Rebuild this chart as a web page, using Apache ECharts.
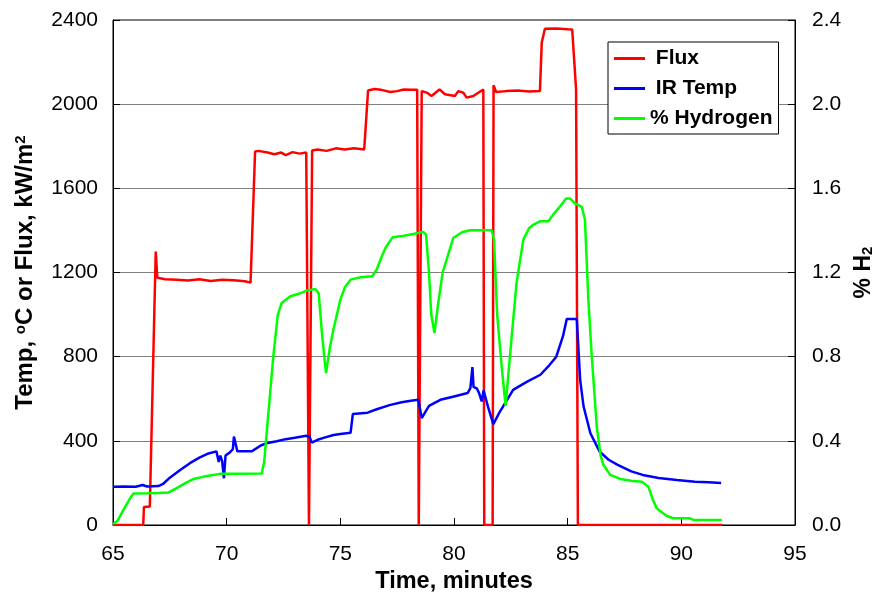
<!DOCTYPE html>
<html>
<head>
<meta charset="utf-8">
<script src="https://cdn.jsdelivr.net/npm/echarts@6/dist/echarts.min.js"></script>
<style>
  html, body { margin: 0; padding: 0; background: #fff; }
  #chart { width: 878px; height: 593px; }
</style>
</head>
<body>
<div id="chart"></div>
<script>
// time axis ticks (minutes)
const timeTicks = [65, 70, 75, 80, 85, 90, 95]
const leftTicks = [0, 400, 800, 1200, 1600, 2000, 2400]
const rightTicks = [0.0, 0.4, 0.8, 1.2, 1.6, 2.0, 2.4]

// Flux, kW/m2
const fluxTime = [65.0, 66.33, 66.36, 66.62, 66.66, 66.88, 66.95, 67.3, 67.8, 68.3, 68.8, 69.3, 69.8, 70.3, 70.8, 71.05, 71.1,
  71.25, 71.4, 71.8, 72.1, 72.4, 72.6, 72.9, 73.2, 73.5, 73.55, 73.62, 73.68, 73.76, 74.0, 74.4, 74.8, 75.2, 75.6, 76.05, 76.1,
  76.22, 76.5, 76.8, 77.2, 77.5, 77.8, 78.1, 78.38, 78.45, 78.5, 78.58, 78.8, 79.01, 79.36, 79.6, 80.04, 80.19, 80.4, 80.56, 80.85, 81.29,
  81.33, 81.7, 81.74, 81.85, 82.3, 82.8, 83.3, 83.78, 83.86, 84.0, 84.5, 85.0, 85.2, 85.37, 85.45, 91.8]
const fluxValue = [0, 0, 85, 88, 88, 1300, 1175, 1168, 1165, 1162, 1168, 1160, 1165, 1163, 1158, 1152, 1158,
  1775, 1778, 1770, 1762, 1770, 1758, 1772, 1765, 1770, 1768, 0, 0, 1780, 1785, 1778, 1790, 1785, 1790, 1785, 1782,
  2065, 2072, 2068, 2058, 2062, 2070, 2068, 2068, 0, 0, 2062, 2055, 2039, 2070, 2047, 2039, 2062, 2055, 2031, 2039, 2070,
  0, 0, 2090, 2058, 2062, 2065, 2060, 2062, 2293, 2358, 2360, 2356, 2355, 2070, 0, 0]

// IR Temp, deg C
const tempTime = [65.0, 65.5, 66.0, 66.3, 66.5, 67.0, 67.2, 67.5, 68.0, 68.4, 68.8, 69.2, 69.55, 69.65, 69.72, 69.8, 69.88, 69.95,
  70.15, 70.27, 70.32, 70.4, 70.47, 71.1, 71.5, 71.8, 72.2, 72.6, 73.0, 73.5, 73.65, 73.74, 74.0, 74.3, 74.7, 75.0, 75.45, 75.5,
  75.55, 76.2, 76.6, 77.2, 77.7, 78.1, 78.43, 78.58, 78.9, 79.4, 80.0, 80.6, 80.72, 80.81, 80.86, 81.0, 81.1, 81.22, 81.3, 81.5,
  81.73, 82.0, 82.25, 82.6, 83.2, 83.8, 84.2, 84.5, 84.8, 84.96, 85.4, 85.55, 85.7, 86.0, 86.4, 86.8, 87.2, 87.8, 88.3, 89.0,
  89.8, 90.6, 91.2, 91.75]
const tempValue = [182, 183, 182, 190, 183, 185, 195, 225, 265, 295, 320, 340, 350, 300, 330, 305, 222, 330,
  346, 360, 420, 428, 350, 350, 378, 390, 398, 408, 415, 424, 418, 392, 405, 415, 428, 432, 438, 436,
  527, 534, 550, 571, 583, 590, 595, 508, 566, 595, 611, 627, 650, 750, 655, 650, 628, 587, 640, 560,
  479, 535, 579, 642, 680, 714, 760, 800, 900, 979, 979, 690, 563, 436, 350, 310, 286, 255, 238, 223,
  214, 206, 203, 200]

// % Hydrogen
const h2Time = [65.0, 65.2, 65.5, 65.75, 65.9, 66.5, 67.0, 67.45, 67.8, 68.2, 68.55, 69.0, 69.7, 70.5, 71.54, 71.65, 71.85, 72.05,
  72.25, 72.42, 72.8, 73.2, 73.55, 73.9, 74.05, 74.2, 74.37, 74.55, 74.7, 75.0, 75.2, 75.45, 75.9, 76.4, 76.6, 76.8, 77.0, 77.3,
  77.8, 78.2, 78.65, 78.77, 78.9, 79.0, 79.14, 79.3, 79.5, 79.97, 80.35, 80.7, 81.66, 81.76, 81.9, 82.1, 82.27, 82.5, 82.75, 83.05,
  83.3, 83.5, 83.8, 84.15, 84.4, 84.67, 84.93, 85.1, 85.33, 85.62, 85.76, 85.91, 86.06, 86.28, 86.45, 86.57, 86.87, 87.31, 87.8,
  88.26, 88.55, 88.75, 88.92, 89.36, 89.65, 90.38, 90.53, 91.78]
const h2Value = [0.005, 0.02, 0.08, 0.127, 0.15, 0.151, 0.152, 0.155, 0.175, 0.2, 0.219, 0.23, 0.243, 0.243, 0.245, 0.3, 0.55, 0.8,
  1.0, 1.055, 1.087, 1.1, 1.115, 1.122, 1.1, 0.9, 0.722, 0.85, 0.93, 1.07, 1.13, 1.166, 1.177, 1.182, 1.214, 1.27, 1.32, 1.367,
  1.375, 1.383, 1.393, 1.38, 1.2, 1.0, 0.912, 1.05, 1.2, 1.364, 1.391, 1.401, 1.401, 1.356, 1.0, 0.75, 0.566, 0.85, 1.15, 1.356,
  1.41, 1.428, 1.444, 1.444, 1.48, 1.515, 1.552, 1.552, 1.528, 1.512, 1.452, 1.071, 0.801, 0.468, 0.33, 0.286, 0.238, 0.219, 0.21,
  0.206, 0.182, 0.12, 0.079, 0.043, 0.032, 0.032, 0.024, 0.024]

const FONT = 'Liberation Sans, Arial, sans-serif'

function pairs(xs, ys) {
  return xs.map((x, i) => [x, ys[i]])
}

const chart = echarts.init(document.getElementById('chart'), null, { renderer: 'canvas' })

const option = {
  animation: false,
  backgroundColor: '#fff',
  textStyle: { fontFamily: FONT, color: '#000' },
  grid: {
    left: 113,
    right: 83,
    top: 20,
    bottom: 68,
    outerBoundsMode: 'none',
    containLabel: false,
    show: true,
    borderColor: '#000',
    borderWidth: 1,
  },
  legend: {
    left: 608,
    top: 42,
    orient: 'vertical',
    backgroundColor: '#fff',
    borderColor: '#000',
    borderWidth: 1,
    borderRadius: 0,
    padding: [6, 6, 5, 6],
    icon: 'rect',
    itemWidth: 31,
    itemHeight: 3,
    itemGap: 9,
    itemTextGap: 4,
    textStyle: { fontFamily: FONT, fontSize: 21, fontWeight: 'bold', color: '#000', lineHeight: 21 },
    formatter: (name) => name === '% Hydrogen' ? name : ' ' + name,
    data: ['Flux', 'IR Temp', '% Hydrogen'],
  },
  xAxis: {
    type: 'value',
    min: timeTicks[0],
    max: timeTicks[timeTicks.length - 1],
    interval: 5,
    name: 'Time, minutes',
    nameLocation: 'middle',
    nameGap: 42,
    nameTextStyle: { fontFamily: FONT, fontSize: 23.5, fontWeight: 'bold', color: '#000' },
    axisLine: { lineStyle: { color: '#000', width: 1 } },
    axisTick: { inside: true, length: 7, lineStyle: { color: '#000' } },
    axisLabel: { fontFamily: FONT, fontSize: 21, color: '#000', margin: 19 },
    splitLine: { show: false },
  },
  yAxis: [
    {
      type: 'value',
      min: leftTicks[0],
      max: leftTicks[leftTicks.length - 1],
      interval: 400,
      name: 'Temp, {sup|o}C or Flux, kW/m{sup|2}',
      nameLocation: 'middle',
      nameRotate: 90,
      nameGap: 76,
      nameTextStyle: {
        fontFamily: FONT, fontSize: 24, fontWeight: 'bold', color: '#000',
        rich: {
          sup: { fontFamily: FONT, fontSize: 15, fontWeight: 'bold', color: '#000', verticalAlign: 'top' },
        },
      },
      axisLine: { show: true, lineStyle: { color: '#000', width: 1 } },
      axisTick: { show: true, inside: true, length: 7, lineStyle: { color: '#000' } },
      axisLabel: { fontFamily: FONT, fontSize: 21, color: '#000', margin: 15, formatter: (v) => String(v) },
      splitLine: { show: true, showMinLine: false, showMaxLine: false, lineStyle: { color: '#808080', width: 1 } },
    },
    {
      type: 'value',
      min: rightTicks[0],
      max: rightTicks[rightTicks.length - 1],
      interval: 0.4,
      position: 'right',
      name: '% H{sub|2}',
      nameLocation: 'middle',
      nameRotate: 90,
      nameGap: 47,
      nameTextStyle: {
        fontFamily: FONT, fontSize: 23, fontWeight: 'bold', color: '#000',
        rich: {
          sub: { fontFamily: FONT, fontSize: 15, fontWeight: 'bold', color: '#000', verticalAlign: 'bottom' },
        },
      },
      axisLine: { show: true, lineStyle: { color: '#000', width: 1 } },
      axisTick: { show: true, inside: true, length: 7, lineStyle: { color: '#000' } },
      axisLabel: { fontFamily: FONT, fontSize: 21, color: '#000', margin: 17, formatter: (v) => v.toFixed(1) },
      splitLine: { show: false },
    },
  ],
  series: [
    {
      name: 'Flux',
      type: 'line',
      yAxisIndex: 0,
      data: pairs(fluxTime, fluxValue),
      symbol: 'none',
      lineStyle: { color: '#ff0000', width: 2.5 },
      itemStyle: { color: '#ff0000' },
    },
    {
      name: 'IR Temp',
      type: 'line',
      yAxisIndex: 0,
      data: pairs(tempTime, tempValue),
      symbol: 'none',
      lineStyle: { color: '#0000ff', width: 2.5 },
      itemStyle: { color: '#0000ff' },
    },
    {
      name: '% Hydrogen',
      type: 'line',
      yAxisIndex: 1,
      data: pairs(h2Time, h2Value),
      symbol: 'none',
      lineStyle: { color: '#00ff00', width: 2.5 },
      itemStyle: { color: '#00ff00' },
    },
  ],
}

chart.setOption(option)
</script>
</body>
</html>
